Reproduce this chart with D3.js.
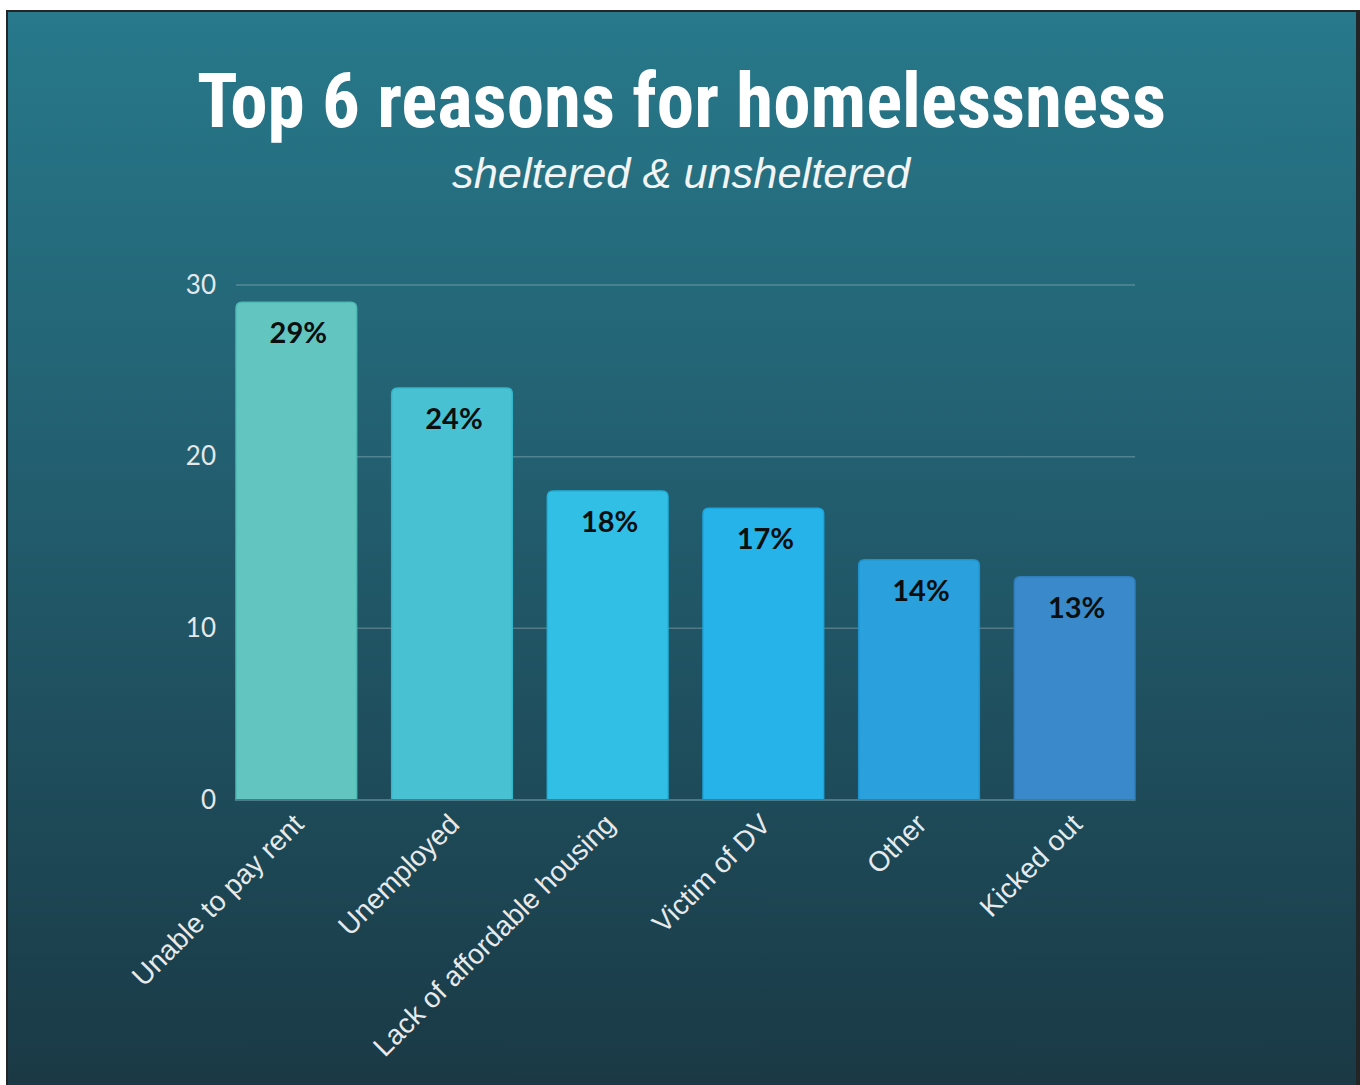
<!DOCTYPE html>
<html>
<head>
<meta charset="utf-8">
<script src="https://cdn.jsdelivr.net/npm/d3@7"></script>
<style>
  html, body { margin: 0; padding: 0; background: #ffffff; }
  svg { display: block; }
</style>
</head>
<body>
<svg id="chart" width="1360" height="1085"></svg>
<script>
// Chart data
const categories = ["Unable to pay rent", "Unemployed", "Lack of affordable housing", "Victim of DV", "Other", "Kicked out"];
const values = [29, 24, 18, 17, 14, 13];
const yTicks = [0, 10, 20, 30];
const titleText = "Top 6 reasons for homelessness";
const subtitleText = "sheltered & unsheltered";

// Bar palette, one colour per category
const palette = ["#62c5c0", "#48c2d3", "#31bfe6", "#26b3e9", "#2aa0dd", "#3a8acb"];
const edgePalette = ["#4fb9b3", "#35b6c8", "#22b2da", "#1aa6de", "#1f93d0", "#2f7dbd"];

const svg = d3.select("#chart");
const W = 1360, H = 1085;

// Background panel with vertical gradient and dark frame
const defs = svg.append("defs");
const grad = defs.append("linearGradient")
  .attr("id", "bg").attr("x1", 0).attr("y1", 0).attr("x2", 0).attr("y2", 1);
grad.append("stop").attr("offset", "0%").attr("stop-color", "#27798b");
grad.append("stop").attr("offset", "45%").attr("stop-color", "#225d6e");
grad.append("stop").attr("offset", "100%").attr("stop-color", "#1a3945");

svg.append("rect").attr("x", 6).attr("y", 10).attr("width", W - 6).attr("height", H - 10).attr("fill", "#222426");
svg.append("rect").attr("x", 8).attr("y", 12).attr("width", W - 12).attr("height", H - 12).attr("fill", "url(#bg)");

// Scales
const x = d3.scaleBand().domain(categories).range([236, 1135]).paddingInner(0.225).paddingOuter(0);
const y = d3.scaleLinear().domain([0, 30]).range([800, 285]);

// Gridlines
svg.append("g").selectAll("line").data(yTicks.filter(t => t > 0)).join("line")
  .attr("x1", 236).attr("x2", 1135)
  .attr("y1", d => y(d)).attr("y2", d => y(d))
  .attr("stroke", "rgba(255,255,255,0.22)").attr("stroke-width", 1.5);

// Y axis labels
const yAxis = d3.axisLeft(y).tickValues(yTicks).tickSize(0).tickPadding(20).tickFormat(d3.format("d"));
const yg = svg.append("g").attr("transform", "translate(236,0)").call(yAxis);
yg.select(".domain").remove();
yg.selectAll("text")
  .attr("fill", "#e4e8ea")
  .style("font-family", "Lato, 'Open Sans', sans-serif")
  .style("font-size", "26px");

// Bars with rounded top corners
const r = 6;
function barPath(d, i) {
  const x0 = x(categories[i]), x1 = x0 + x.bandwidth();
  const yt = y(d), yb = y(0);
  return `M${x0},${yb}V${yt + r}Q${x0},${yt} ${x0 + r},${yt}H${x1 - r}Q${x1},${yt} ${x1},${yt + r}V${yb}Z`;
}
svg.append("g").selectAll("path").data(values).join("path")
  .attr("d", barPath)
  .attr("fill", (d, i) => palette[i])
  .attr("stroke", (d, i) => edgePalette[i])
  .attr("stroke-width", 1.5);

// Baseline
svg.append("line")
  .attr("x1", 236).attr("x2", 1135).attr("y1", y(0)).attr("y2", y(0))
  .attr("stroke", "#4b7988").attr("stroke-width", 2);

// Value labels inside bars
svg.append("g").selectAll("text").data(values).join("text")
  .attr("x", (d, i) => x(categories[i]) + x.bandwidth() / 2 + 2)
  .attr("y", d => y(d) + 41)
  .attr("text-anchor", "middle")
  .attr("fill", "#0b0f10")
  .style("font-family", "Lato, 'Open Sans', sans-serif")
  .style("font-weight", "700")
  .style("font-size", "29px")
  .text(d => d + "%");

// Category labels, rotated
const xAxis = d3.axisBottom(x).tickSize(0).tickPadding(0);
const xg = svg.append("g").attr("transform", `translate(0,${y(0)})`).call(xAxis);
xg.select(".domain").remove();
xg.selectAll("text")
  .attr("text-anchor", "end")
  .attr("dy", null)
  .attr("y", 0)
  .attr("transform", "translate(9,26) rotate(-45)")
  .attr("fill", "#e6eaec")
  .style("font-family", "'Liberation Sans', Arial, sans-serif")
  .style("font-size", "28px");

// Title and subtitle
svg.append("text")
  .attr("x", 681.5).attr("y", 127)
  .attr("text-anchor", "middle")
  .attr("fill", "#ffffff")
  .attr("textLength", 969).attr("lengthAdjust", "spacingAndGlyphs")
  .style("font-family", "'Roboto Condensed', Roboto, sans-serif")
  .style("font-weight", "700")
  .style("font-size", "76px")
  .text(titleText);

svg.append("text")
  .attr("x", 681).attr("y", 188)
  .attr("text-anchor", "middle")
  .attr("fill", "#f2f4f5")
  .attr("textLength", 458).attr("lengthAdjust", "spacingAndGlyphs")
  .style("font-family", "'Liberation Sans', Arial, sans-serif")
  .style("font-style", "italic")
  .style("font-size", "42px")
  .text(subtitleText);
</script>
</body>
</html>
